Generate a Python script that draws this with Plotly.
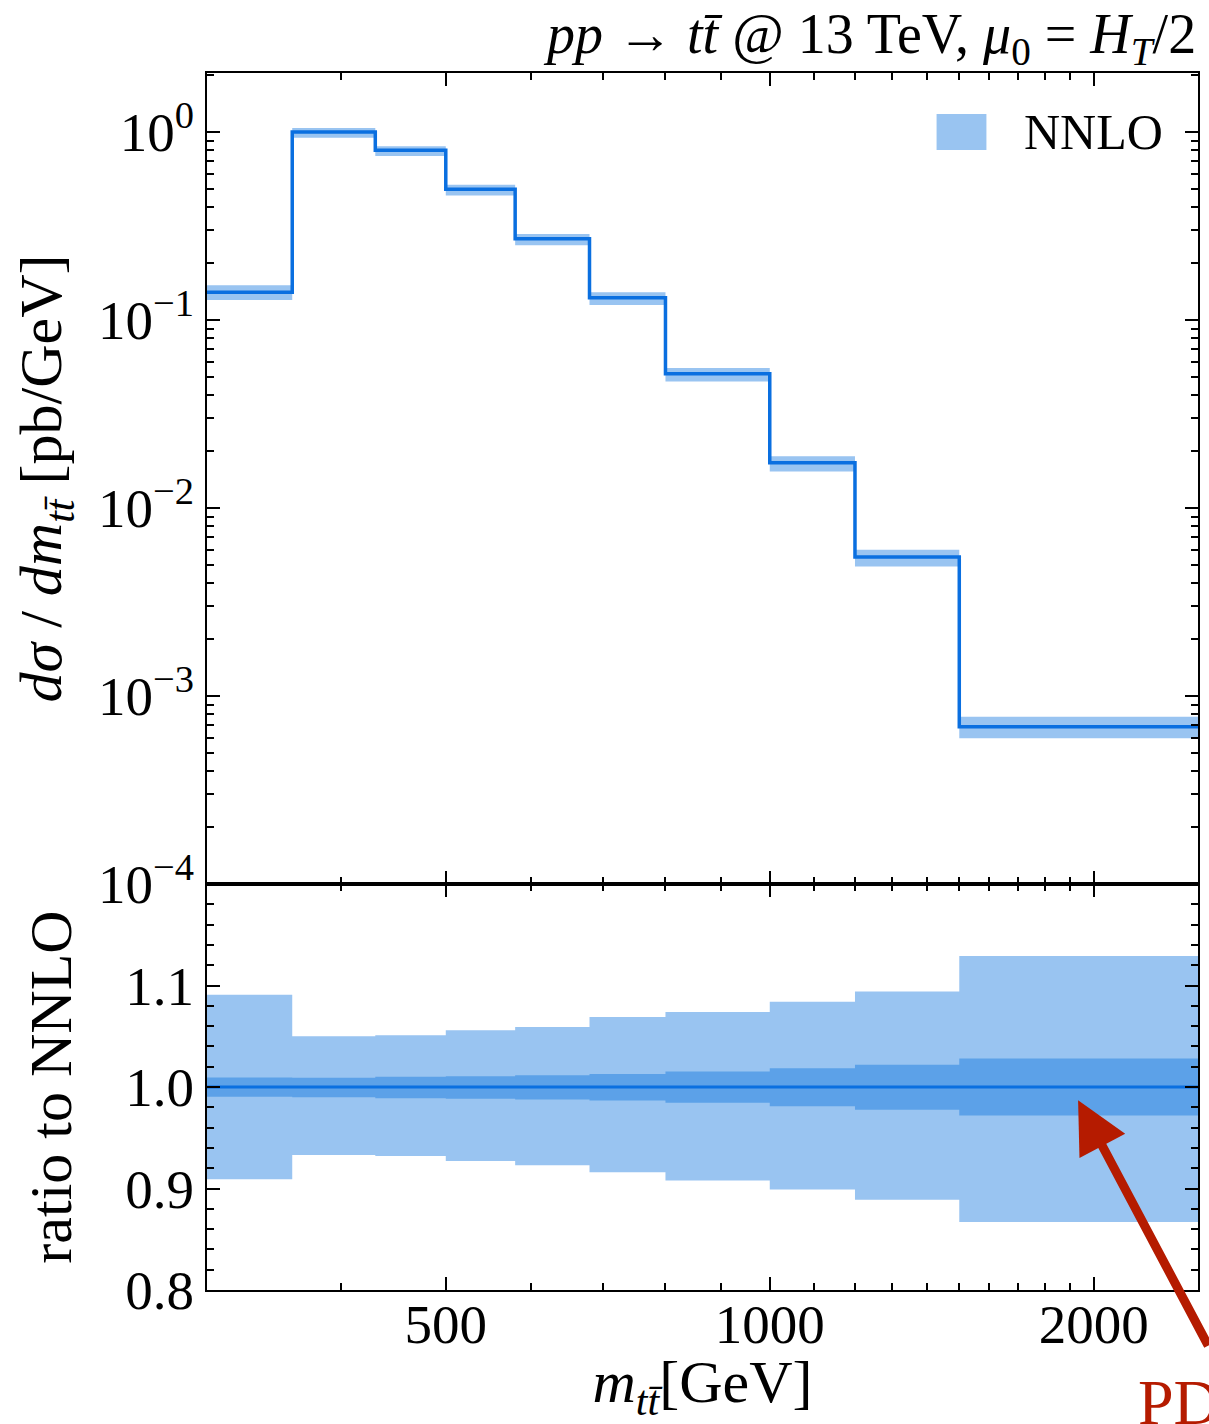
import plotly.graph_objects as go
from plotly.subplots import make_subplots

# ---- data ----
bin_edges = [300, 360, 430, 500, 580, 680, 800, 1000, 1200, 1500, 2500]
nnlo_xsec = [0.1404, 1.0, 0.799, 0.496, 0.2707, 0.1314, 0.0518, 0.0174, 0.00549, 0.000687]
scale_up = [1.091, 1.050, 1.051, 1.056, 1.059, 1.069, 1.074, 1.084, 1.094, 1.129]
scale_dn = [0.909, 0.933, 0.932, 0.927, 0.923, 0.916, 0.908, 0.899, 0.889, 0.867]
pdf_up = [1.0094, 1.0092, 1.0100, 1.0106, 1.0116, 1.0129, 1.0152, 1.0185, 1.0220, 1.0280]
pdf_dn = [0.9904, 0.9900, 0.9890, 0.9884, 0.9878, 0.9868, 0.9845, 0.9810, 0.9776, 0.9718]
x_major = [500, 1000, 2000]
x_minor = [400, 600, 700, 800, 900, 1100, 1200, 1300, 1400, 1500, 1600, 1700, 1800, 1900]
y_major = [1e-4, 1e-3, 1e-2, 1e-1, 1e0]
y_major_text = ["10<sup>−4</sup>", "10<sup>−3</sup>", "10<sup>−2</sup>", "10<sup>−1</sup>", "10<sup>0</sup>"]
r_major = [0.8, 0.9, 1.0, 1.1]
r_major_text = ["0.8", "0.9", "1.0", "1.1"]

LIGHT = "#99c4f1"
DARK = "#5ca1e8"
LINE = "#0a6fe0"
RED = "#b51b00"
FONT = "Liberation Serif"


def band_polygon(edges, lo, hi):
    xs, ys = [], []
    for i in range(len(hi)):
        xs += [edges[i], edges[i + 1]]
        ys += [hi[i], hi[i]]
    for i in reversed(range(len(lo))):
        xs += [edges[i + 1], edges[i]]
        ys += [lo[i], lo[i]]
    return xs, ys


fig = make_subplots(rows=2, cols=1, shared_xaxes=True, vertical_spacing=0,
                    row_heights=[811, 406])

# main panel band (scale uncertainty)
main_hi = [v * u for v, u in zip(nnlo_xsec, scale_up)]
main_lo = [v * d for v, d in zip(nnlo_xsec, scale_dn)]
bx, by = band_polygon(bin_edges, main_lo, main_hi)
fig.add_trace(go.Scatter(x=bx, y=by, fill="toself", fillcolor=LIGHT, mode="none",
                         name="NNLO", showlegend=False, hoverinfo="skip"), row=1, col=1)
fig.add_trace(go.Scatter(x=bin_edges, y=nnlo_xsec + [nnlo_xsec[-1]], mode="lines",
                         line=dict(color=LINE, width=3.5, shape="hv"),
                         showlegend=False), row=1, col=1)

# ratio panel
rx, ry = band_polygon(bin_edges, scale_dn, scale_up)
fig.add_trace(go.Scatter(x=rx, y=ry, fill="toself", fillcolor=LIGHT, mode="none",
                         showlegend=False, hoverinfo="skip"), row=2, col=1)
px_, py_ = band_polygon(bin_edges, pdf_dn, pdf_up)
fig.add_trace(go.Scatter(x=px_, y=py_, fill="toself", fillcolor=DARK, mode="none",
                         showlegend=False, hoverinfo="skip"), row=2, col=1)
ones = [1.0] * len(bin_edges)
fig.add_trace(go.Scatter(x=bin_edges, y=ones, mode="lines",
                         line=dict(color=LINE, width=3), showlegend=False), row=2, col=1)

tickfont = dict(family=FONT, size=55, color="black")
titlefont = dict(family=FONT, size=60, color="black")
common_x = dict(type="log", range=[2.4771, 3.3979], showline=True, linecolor="black",
                linewidth=2, mirror="allticks", ticks="inside", ticklen=13, tickwidth=1.8,
                tickcolor="black", tickvals=x_major, ticktext=[str(v) for v in x_major],
                minor=dict(tickvals=x_minor, ticks="inside", ticklen=7, tickwidth=1.5,
                           tickcolor="black", showgrid=False),
                showgrid=False, zeroline=False, tickfont=tickfont)
fig.update_xaxes(**common_x)
fig.update_xaxes(showticklabels=False, row=1, col=1)
fig.update_xaxes(title=dict(text="<i>m</i><sub><i>tt̄</i></sub>[GeV]",
                            font=titlefont, standoff=12),
                 ticklabelstandoff=-15, row=2, col=1)

y_minor = [m * 10 ** k for k in range(-4, 1) for m in range(2, 10)]
fig.update_yaxes(type="log", range=[-4, 0.314], showline=True, linecolor="black",
                 linewidth=2, mirror="allticks", ticks="inside", ticklen=13, tickwidth=1.8,
                 tickcolor="black", tickvals=y_major, ticktext=y_major_text,
                 minor=dict(tickvals=y_minor, ticks="inside", ticklen=7, tickwidth=1.5,
                            tickcolor="black", showgrid=False),
                 showgrid=False, zeroline=False, tickfont=tickfont,
                 title=dict(text="<i>dσ</i> / <i>dm</i><sub><i>tt̄</i></sub> [pb/GeV]",
                            font=titlefont, standoff=17),
                 row=1, col=1)
fig.update_yaxes(range=[0.8, 1.2], showline=True, linecolor="black",
                 linewidth=2, mirror="allticks", ticks="inside", ticklen=13, tickwidth=1.8,
                 tickcolor="black", tickvals=r_major, ticktext=r_major_text,
                 minor=dict(dtick=0.02, tick0=0.8, ticks="inside", ticklen=7, tickwidth=1.5,
                            tickcolor="black", showgrid=False),
                 showgrid=False, zeroline=False, tickfont=tickfont,
                 title=dict(text="ratio to NNLO", font=titlefont, standoff=34),
                 row=2, col=1)

# legend drawn as patch + text
fig.add_shape(type="rect", xref="paper", yref="paper", x0=0.7362, x1=0.7865,
              y0=0.9367, y1=0.9663, fillcolor=LIGHT, line=dict(width=0))
fig.add_annotation(xref="paper", yref="paper", x=0.8228, y=0.9515, xanchor="left",
                   yanchor="middle", text="NNLO", showarrow=False,
                   font=dict(family=FONT, size=50, color="black"))

# title
fig.add_annotation(xref="paper", yref="paper", x=1.0, y=1.0, xanchor="right",
                   yanchor="bottom", yshift=-2,
                   text="<i>pp</i> → <i>tt̄</i> @ 13 TeV, <i>μ</i><sub>0</sub> = <i>H</i><sub><i>T</i></sub>/2",
                   showarrow=False, font=dict(family=FONT, size=56, color="black"))

# PDF arrow
fig.add_annotation(xref="paper", yref="paper", x=0.879, y=0.156, text="",
                   showarrow=True, ax=135, ay=247, arrowcolor=RED,
                   arrowwidth=9, arrowhead=2, arrowsize=1.15, standoff=0)
fig.add_annotation(xref="paper", yref="paper", x=(1138 - 207) / 993, y=-(1402 - 1290) / 1217,
                   xanchor="left", yanchor="middle", text="PDF", showarrow=False,
                   font=dict(family=FONT, size=64, color=RED))

fig.update_layout(width=1209, height=1424, margin=dict(l=207, r=9, t=73, b=134),
                  plot_bgcolor="white", paper_bgcolor="white", showlegend=False)

fig.write_html("out.html")
